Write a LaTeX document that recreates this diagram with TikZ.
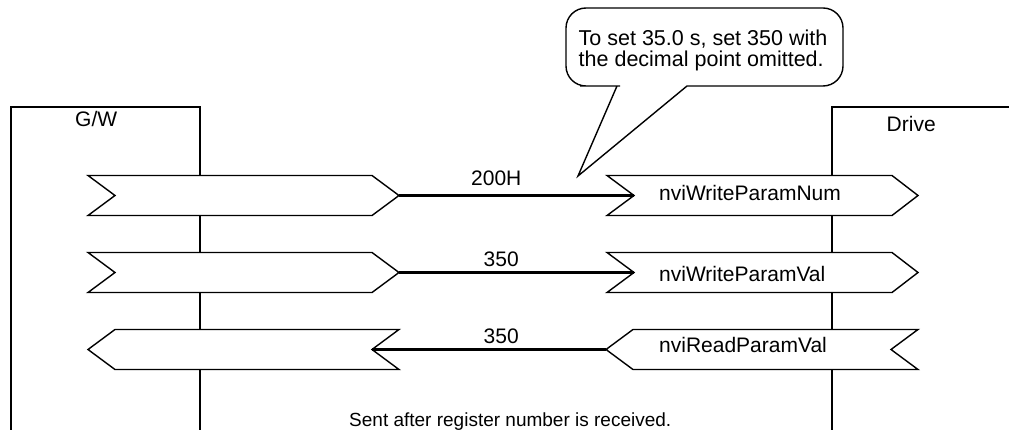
\documentclass[tikz,border=0pt]{standalone}
\usepackage{fontspec}
\setmainfont{Liberation Sans}
\usepackage{tikz}

\tikzset{
  outl/.style={line width=1.4pt, line join=miter},
  chev/.style={outl, fill=white},
  link/.style={line width=2.2pt},
  lbl/.style={inner sep=0pt, font=\fontsize{21}{21}\selectfont},
  small lbl/.style={inner sep=0pt, font=\fontsize{19}{19}\selectfont},
  note lbl/.style={inner sep=0pt, font=\fontsize{21.5}{21}\selectfont},
}

\begin{document}
\begin{tikzpicture}[x=1pt,y=1pt,yscale=-1,xscale=1]
\useasboundingbox (0,0) rectangle (1009,430);

%Shape: Lifeline box [id:gwbox]
\draw [outl] (11,430) -- (11,107) -- (200,107) -- (200,430) ;
%Shape: Lifeline box [id:drvbox]
\draw [outl] (832,430) -- (832,107) -- (1009,107) ;

%Shape: Chevron [id:gwNum]
\draw [chev] (88,175.5) -- (372,175.5) -- (399,195.5) -- (372,215.5) -- (88,215.5) -- (115,195.5) -- cycle ;
\coordinate (gwNumTip) at (399,195.5) ;
%Shape: Chevron [id:gwVal]
\draw [chev] (88,252.5) -- (372,252.5) -- (399,272.5) -- (372,292.5) -- (88,292.5) -- (115,272.5) -- cycle ;
\coordinate (gwValTip) at (399,272.5) ;
%Shape: Chevron [id:gwRead]
\draw [chev] (115,329.5) -- (399,329.5) -- (372,349.5) -- (399,369.5) -- (115,369.5) -- (88,349.5) -- cycle ;
\coordinate (gwReadIn) at (372,349.5) ;

%Shape: Chevron [id:drvNum]
\draw [chev] (607,175.5) -- (892,175.5) -- (918,195.5) -- (892,215.5) -- (607,215.5) -- (634,195.5) -- cycle ;
\coordinate (drvNumIn) at (634,195.5) ;
%Shape: Chevron [id:drvVal]
\draw [chev] (607,252.5) -- (892,252.5) -- (918,272.5) -- (892,292.5) -- (607,292.5) -- (634,272.5) -- cycle ;
\coordinate (drvValIn) at (634,272.5) ;
%Shape: Chevron [id:drvRead]
\draw [chev] (633,329.5) -- (918,329.5) -- (891,349.5) -- (918,369.5) -- (633,369.5) -- (606,349.5) -- cycle ;
\coordinate (drvReadTip) at (606,349.5) ;

%Straight Lines [id:lnNum]
\draw [link] (gwNumTip) -- (drvNumIn) ;
%Straight Lines [id:lnVal]
\draw [link] (gwValTip) -- (drvValIn) ;
%Straight Lines [id:lnRead]
\draw [link] (drvReadTip) -- (gwReadIn) ;

%Shape: Callout [id:note]
\coordinate (noteTip) at (578,176) ;
\draw [outl, fill=white] (617,86) -- (noteTip) -- (687,86) -- (760,86) [rounded corners=20pt] -- (843,86) -- (843,8) -- (566,8) -- (566,86) -- (600,86) [sharp corners] -- cycle ;

% Text Node
\node (txtGW) [lbl, anchor=base west] at (75,127) {G/W};
% Text Node
\node (txtDrv) [lbl, anchor=base west] at (886.5,132) {Drive};
% Text Node
\node (txtNum) [lbl, anchor=base west] at (659,201) {nviWriteParamNum};
% Text Node
\node (txtVal) [lbl, anchor=base west] at (659,282) {nviWriteParamVal};
% Text Node
\node (txtRead) [lbl, anchor=base west] at (659,352.5) {nviReadParamVal};
% Text Node
\node (lblNum) [lbl, anchor=base west] at (471,186) {200H};
% Text Node
\node (lblVal) [lbl, anchor=base west] at (483.5,267) {350};
% Text Node
\node (lblRead) [lbl, anchor=base west] at (483.5,343) {350};
% Text Node
\node (txtNote) [note lbl, anchor=north west, align=left] at (578.5,29.5) {To set 35.0 s, set 350 with\\the decimal point omitted.};
% Text Node
\node (txtSent) [small lbl, anchor=base west] at (349,426) {Sent after register number is received.};

\end{tikzpicture}
\end{document}
